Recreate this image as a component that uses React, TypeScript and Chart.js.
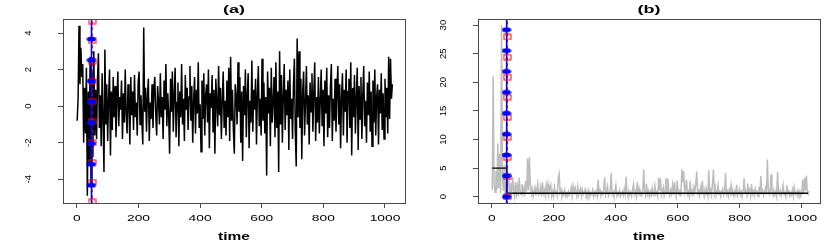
import React, { useEffect, useRef } from "react";
import { Chart, registerables } from "chart.js";

Chart.register(...registerables);

// ---------- data ----------
const TIME_STEP = 3; // one reading every 3 time units, starting at t = 1
const changeTime = 48;

// panel (a): the series
const seriesA = [
  -0.8, 0.4, 4.4, 1.2, 3.2, 1.6, 2.3, -2.0, 1.0, -1.5, 2.1, -4.9, 0.8, -3.1, 2.7, -4.2, 1.9, -2.8, 3.0, -1.6,
  0.9, -1.8, 1.5, 2.9, -1.2, 0.6, -2.2, 1.8, -0.7, -3.6, 3.1, -1.0, 1.2, -1.9, 0.4, 2.0, -2.7, 0.8, -1.3, 1.6,
  -0.6, 1.1, -1.7, 0.3, 1.9, -1.1, 0.5, -0.2, 1.4, -1.8, 0.7, -0.9, 2.0, -0.4, -1.5, 1.2, 0.1, -2.1, 1.6, -0.5,
  0.8, -1.3, 1.7, -0.6, 0.2, -1.6, 1.3, 1.9, -1.0, 0.6, -0.8, -2.1, 4.3, -0.3, 1.0, -1.4, 0.5, 1.5, -1.9, 0.2,
  -0.7, 1.2, -1.2, 0.9, 1.6, -0.4, -1.6, 1.1, 0.3, -1.0, 1.8, -0.6, 0.5, -1.8, 1.4, -0.2, 2.3, -1.1, 0.7, -0.5,
  -2.6, 1.5, -0.3, 1.9, -1.4, 0.6, 2.1, -1.7, 0.2, 1.3, -2.2, 0.8, -0.6, 2.3, -1.0, 0.4, -1.9, 1.7, -0.2, 1.0,
  -1.3, 0.5, 2.2, -0.8, 1.1, -2.0, 0.3, 1.6, -1.5, 0.9, -0.4, 2.4, -1.2, 0.1, -2.5, 1.4, -0.7, 1.8, -1.6, 0.6,
  1.2, -0.9, 2.0, -2.3, 0.7, -0.1, 1.7, -1.4, 0.9, -2.6, 1.5, 0.2, -1.1, 2.2, -0.5, 1.0, -1.8, 0.4, 1.9, -1.2,
  0.3, -1.6, 1.4, -0.6, 2.1, -1.9, 2.7, -0.8, 0.9, -1.3, -2.6, 1.2, 0.5, -1.0, 2.4, -0.3, 1.6, -2.0, 0.8, -3.0,
  1.1, -0.5, 2.0, -1.7, 0.6, 1.8, -2.3, 0.3, -0.9, 2.5, -1.4, 0.9, -0.2, 1.5, -2.1, 0.7, 2.2, -1.1, 0.4, -1.6,
  2.6, -0.8, 1.3, -1.5, 0.5, -3.8, 1.9, -0.4, 1.0, -2.2, 2.1, -0.9, 0.2, 1.6, -1.7, 2.4, -1.2, 0.8, -3.6, 3.0,
  -1.0, 1.7, -2.0, 0.6, 2.3, -1.3, 0.9, -0.5, 1.4, -2.4, 2.0, -0.7, 0.4, -1.8, 1.2, 2.6, -1.5, -3.3, 3.7, -0.6,
  3.0, -1.2, 1.5, -2.9, 0.8, 1.9, -1.6, 0.2, 2.2, -1.0, 0.6, -2.1, 1.3, -0.3, 1.8, -1.4, 0.7, 2.4, -1.9, 0.5,
  -0.9, 1.6, -1.5, 0.3, 2.0, -1.1, 0.9, -2.2, 1.4, -0.4, 2.1, -1.7, 0.6, -1.2, 1.1, 2.3, -1.9, 0.4, -0.8, 1.5,
  -1.4, 0.7, 2.2, -1.0, 1.2, -2.3, 0.5, 1.8, -1.6, 0.9, -0.3, 2.0, -2.0, 0.8, 1.5, -1.2, 2.4, -2.7, 1.0, -0.6,
  1.7, -1.5, 0.4, 2.1, -2.4, 1.1, -0.7, 1.6, -1.8, 0.6, 2.2, -1.1, 0.3, -2.0, 1.3, -0.5, 1.9, -1.4, 0.8, -2.2,
  1.4, -0.9, 2.0, -1.6, 0.5, 1.2, -2.1, 0.9, -0.4, 1.8, -1.3, 0.7, -1.8, 1.5, -0.6, 1.0, -1.5, 2.7, -0.7, 2.6, 0.4, 1.2,
];

// panel (b): the gray series
const seriesB = [
  1.2, 21, 2.5, 0.8, 4.5, 1.2, 9.3, 1.5, 7.5, 0.6, 30, 3.2, 1.0, 5.5, 0.4, 2.6, 0.9, 3.8, 1.6, 0.3,
  2.4, 0.8, 3.5, 1.2, 0.1, 2.6, 0.5, 1.8, 0.05, 3.3, 1.0, 0.4, 2.2, 0.7, 1.5, 0.1, 2.8, 0.9, 6.7, 1.1,
  6.9, 2.0, 0.5, 1.4, 0.05, 0.9, 1.6, 0.2, 1.1, 2.3, 0.4, 0.8, 1.7, 0.05, 2.5, 0.6, 1.2, 0.2, 2.0, 0.7,
  2.2, 0.5, 1.3, 2.0, 0.1, 1.0, 0.05, 1.6, 0.6, 0.9, 0.2, 3.3, 4.0, 0.7, 1.2, 0.05, 0.8, 0.3, 1.1, 0.1,
  0.6, 0.05, 0.9, 0.3, 0.7, 1.6, 0.1, 1.8, 0.5, 1.9, 0.8, 0.05, 1.7, 0.3, 1.0, 1.5, 0.1, 1.2, 0.4, 0.8,
  1.3, 0.05, 0.9, 0.3, 1.1, 0.1, 0.7, 0.4, 1.2, 0.05, 0.8, 0.3, 1.0, 0.1, 3.0, 0.6, 1.1, 0.2, 0.7, 0.4,
  1.4, 3.4, 0.3, 0.9, 1.8, 0.1, 0.6, 1.2, 4.2, 0.4, 0.8, 0.05, 1.0, 2.0, 0.2, 0.7, 0.3, 1.1, 0.05, 0.6,
  0.9, 0.2, 1.3, 0.4, 3.5, 0.7, 0.05, 1.0, 0.3, 0.8, 0.1, 1.2, 2.2, 0.4, 0.9, 0.05, 2.5, 0.6, 1.4, 0.2,
  0.8, 0.3, 1.1, 4.7, 0.7, 0.1, 2.3, 0.4, 1.0, 0.05, 0.9, 0.3, 1.5, 0.2, 0.7, 1.9, 0.4, 0.8, 0.05, 3.3,
  1.1, 3.2, 0.3, 0.9, 1.6, 0.1, 0.7, 3.2, 0.4, 3.1, 0.8, 0.2, 1.2, 0.5, 2.0, 0.3, 2.6, 0.9, 0.05, 2.8,
  1.0, 0.3, 1.3, 0.05, 4.8, 2.5, 4.5, 0.7, 1.4, 3.0, 0.4, 0.9, 0.1, 2.8, 0.6, 1.1, 0.05, 1.7, 0.9, 2.2,
  4.4, 0.6, 1.0, 0.2, 1.5, 0.3, 2.8, 0.8, 0.05, 1.3, 0.4, 0.9, 0.1, 4.6, 0.7, 1.2, 0.3, 2.4, 4.7, 0.6,
  1.6, 0.2, 0.8, 2.0, 0.4, 1.1, 0.05, 0.9, 1.4, 0.3, 0.7, 4.2, 0.4, 0.9, 0.1, 1.2, 0.6, 2.0, 0.3, 0.8,
  0.05, 1.0, 0.4, 2.1, 0.2, 0.7, 1.3, 0.3, 0.9, 0.05, 1.1, 3.2, 0.6, 0.8, 0.2, 2.3, 0.7, 1.2, 0.1, 2.2,
  0.5, 1.0, 0.2, 1.4, 0.6, 0.9, 0.05, 1.8, 0.4, 3.6, 0.7, 1.1, 0.2, 0.8, 1.5, 0.3, 6.5, 1.3, 0.4, 1.0,
  3.9, 0.6, 0.2, 1.2, 0.3, 0.8, 0.05, 4.3, 0.9, 0.4, 1.1, 0.2, 0.7, 2.0, 0.3, 0.9, 0.05, 2.0, 0.6, 1.0,
  0.2, 0.7, 0.3, 1.2, 0.05, 1.6, 0.5, 0.8, 0.2, 1.1, 0.4, 0.9, 0.1, 0.7, 2.9, 0.6, 3.3, 1.0, 3.7, 0.8, 0.4, 1.0,
];

// markers on the change line
const blueA = [3.67, 2.52, 1.38, 0.24, -0.9, -2.04, -3.18, -4.33];
const redA = [4.66, 3.58, 2.47, 1.37, 0.26, -0.86, -1.98, -3.08, -4.16, -5.24];
const blueB = [0, 3.65, 7.3, 10.95, 14.6, 18.25, 21.9, 25.55, 29.2];
const redB = [0, 3.45, 6.9, 10.4, 13.9, 17.4, 20.9, 24.4, 27.95];

// black step level in panel (b)
const stepTimes = [1, 48, 48, 1020];
const stepLevels = [5, 5, 0.6, 0.6];

const titles = ["(a)", "(b)"];
const xLabel = "time";

// ---------- styling helpers ----------
const FONT = '"Liberation Sans", Arial, Helvetica, sans-serif';

function makeEllipse(): HTMLCanvasElement {
  const c = document.createElement("canvas");
  c.width = 10;
  c.height = 6;
  const g = c.getContext("2d")!;
  g.fillStyle = "#0000ff";
  g.beginPath();
  g.ellipse(5, 3, 4.6, 2.5, 0, 0, Math.PI * 2);
  g.fill();
  return c;
}

function makeSquare(): HTMLCanvasElement {
  const c = document.createElement("canvas");
  c.width = 9;
  c.height = 7;
  const g = c.getContext("2d")!;
  g.strokeStyle = "#ff0000";
  g.lineWidth = 1;
  g.strokeRect(1, 1, 7, 5);
  return c;
}

function stretchText(ctx: CanvasRenderingContext2D, text: string, x: number, y: number, sx: number) {
  ctx.save();
  ctx.translate(x, y);
  ctx.scale(sx, 1);
  ctx.fillText(text, 0, 0);
  ctx.restore();
}

const rPlugin = {
  id: "rstyle",
  afterDraw(chart: any) {
    const { ctx, chartArea: a, scales } = chart;
    const title = chart.options.plugins.rstyle.title;
    ctx.save();
    ctx.strokeStyle = "#4a4a4a";
    ctx.lineWidth = 1;
    ctx.strokeRect(Math.round(a.left) + 0.5, Math.round(a.top) + 0.5, Math.round(a.right - a.left), Math.round(a.bottom - a.top));

    ctx.fillStyle = "#000";
    ctx.textAlign = "center";
    ctx.textBaseline = "middle";
    ctx.font = `9.5px ${FONT}`;
    for (const t of scales.x.ticks) {
      const x = scales.x.getPixelForValue(t.value);
      stretchText(ctx, String(t.value), x, 218.5, 1.45);
    }
    for (const t of scales.y.ticks) {
      const y = scales.y.getPixelForValue(t.value);
      ctx.save();
      ctx.translate(28, y);
      ctx.rotate(-Math.PI / 2);
      ctx.fillText(String(t.value), 0, 0);
      ctx.restore();
    }
    const cx = (a.left + a.right) / 2;
    ctx.font = `bold 10px ${FONT}`;
    stretchText(ctx, title, cx, 10, 1.8);
    ctx.font = `bold 10px ${FONT}`;
    stretchText(ctx, xLabel, cx, 237, 1.55);
    ctx.restore();
  },
};

function vline(color: string, x: number, width: number, dash: number[]) {
  return {
    data: [
      { x, y: -1000 },
      { x, y: 1000 },
    ],
    borderColor: color,
    borderWidth: width,
    borderDash: dash,
    pointRadius: 0,
    showLine: true,
  };
}

function buildConfig(panel: number, dot: HTMLCanvasElement, sq: HTMLCanvasElement): any {
  const isA = panel === 0;
  const series = isA ? seriesA : seriesB;
  const blue = isA ? blueA : blueB;
  const red = isA ? redA : redB;
  const datasets: any[] = [
    {
      data: blue.map((y) => ({ x: changeTime - 1, y })),
      showLine: false,
      pointStyle: dot,
      pointRadius: 4,
    },
    {
      data: red.map((y) => ({ x: changeTime + 1.5, y })),
      showLine: false,
      pointStyle: sq,
      pointRadius: 4,
    },
    vline("#0000ff", changeTime - 0.5, 1.6, []),
    vline("#ff0000", changeTime + 2, 1, [3, 3]),
  ];
  if (!isA) {
    datasets.push({
      data: stepTimes.map((x, i) => ({ x, y: stepLevels[i] })),
      borderColor: "#000",
      borderWidth: 1.4,
      pointRadius: 0,
      showLine: true,
    });
  }
  datasets.push({
    data: series.map((y, i) => ({ x: 1 + i * TIME_STEP, y })),
    borderColor: isA ? "#000000" : "#bdbdbd",
    borderWidth: isA ? 1.5 : 1.5,
    pointRadius: 0,
    showLine: true,
  });

  return {
    type: "scatter",
    data: { datasets },
    plugins: [rPlugin],
    options: {
      responsive: false,
      animation: false,
      devicePixelRatio: 1,
      layout: { padding: { top: 19, right: 10, left: 0, bottom: 0 } },
      plugins: {
        legend: { display: false },
        tooltip: { enabled: false },
        rstyle: { title: titles[panel] },
      },
      scales: {
        x: {
          type: "linear",
          min: -45,
          max: isA ? 1065 : 1059,
          afterFit: (s: any) => {
            s.height = 39;
          },
          ticks: { display: false, stepSize: 200, includeBounds: false },
          grid: { drawOnChartArea: false, drawTicks: true, tickLength: 5, color: "#4a4a4a", tickColor: "#4a4a4a" },
          border: { display: false },
        },
        y: {
          type: "linear",
          min: isA ? -5.3 : -1.1,
          max: isA ? 4.77 : 31.07,
          afterFit: (s: any) => {
            s.width = 63;
          },
          ticks: { display: false, stepSize: isA ? 2 : 5, includeBounds: false },
          grid: { drawOnChartArea: false, drawTicks: true, tickLength: 5, color: "#4a4a4a", tickColor: "#4a4a4a" },
          border: { display: false },
        },
      },
    },
  };
}

function Panel({ index }: { index: number }) {
  const ref = useRef<HTMLCanvasElement | null>(null);
  useEffect(() => {
    const canvas = ref.current!;
    const chart = new Chart(canvas, buildConfig(index, makeEllipse(), makeSquare()));
    return () => chart.destroy();
  }, [index]);
  return (
    <canvas
      ref={ref}
      width={415}
      height={242}
      style={{ width: "415px", height: "242px", display: "block" }}
    />
  );
}

export default function App() {
  return (
    <div style={{ position: "absolute", left: 0, top: 0, width: 830, height: 242, display: "flex", background: "#fff" }}>
      <Panel index={0} />
      <Panel index={1} />
    </div>
  );
}
